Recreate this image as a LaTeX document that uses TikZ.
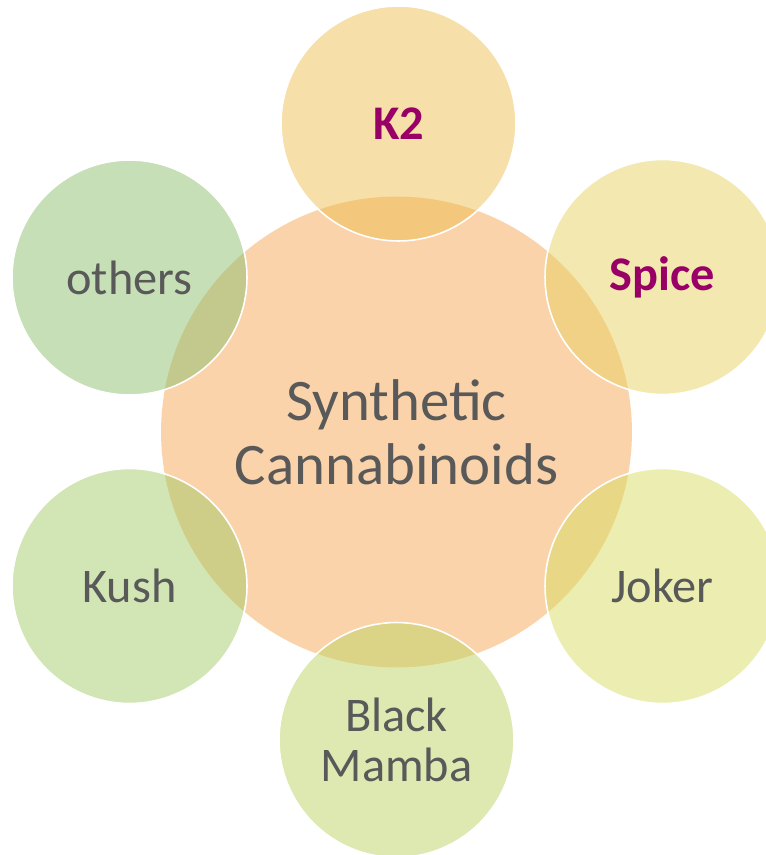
\documentclass[tikz,border=0pt]{standalone}
\usepackage{fontspec}
\setmainfont{Carlito}
\usepackage{xcolor}
\usetikzlibrary{positioning}

\definecolor{txtgray}{HTML}{595959}
\definecolor{brandred}{HTML}{990066}
\definecolor{hubfill}{HTML}{FBD3AA}
\definecolor{cK}{RGB}{237,191,81}
\definecolor{cSpice}{RGB}{231,209,97}
\definecolor{cJoker}{RGB}{215,221,97}
\definecolor{cMamba}{RGB}{189,211,99}
\definecolor{cKush}{RGB}{165,203,105}
\definecolor{cOthers}{RGB}{141,191,111}

\begin{document}
\begin{tikzpicture}[
    x=0.02cm, y=-0.02cm,
    hub/.style={circle, fill=hubfill, minimum size=9.42cm, inner sep=0pt, align=center, text=txtgray, font=\fontsize{33.5}{36.5}\selectfont},
    petal/.style={circle, draw=white, line width=0.9pt, fill opacity=0.5, text opacity=1, draw opacity=1, minimum size=4.7cm, inner sep=0pt, align=center, text=txtgray, font=\fontsize{27.5}{28.5}\selectfont},
    brand/.style={text=brandred, font=\fontsize{27.5}{28.5}\selectfont\bfseries}
]
\useasboundingbox (0,0) rectangle (766,855);
\clip (0,0) rectangle (766,855);

% --- centre ---
\node[hub] (hub) at (396.5, 432) {Synthetic\\Cannabinoids};

% --- ring of names ---
\node[petal, fill=cK, brand]      (k2)     at (398.5, 123.5) {K2};
\node[petal, fill=cSpice, brand]  (spice)  at (662.5, 277)   {Spice};
\node[petal, fill=cJoker]         (joker)  at (662.5, 586)   {Joker};
\node[petal, fill=cMamba]         (mamba)  at (396.5, 740)   {Black\\Mamba};
\node[petal, fill=cKush]          (kush)   at (129.5, 586)   {Kush};
\node[petal, fill=cOthers]        (others) at (129.5, 277.5) {others};
\end{tikzpicture}
\end{document}
